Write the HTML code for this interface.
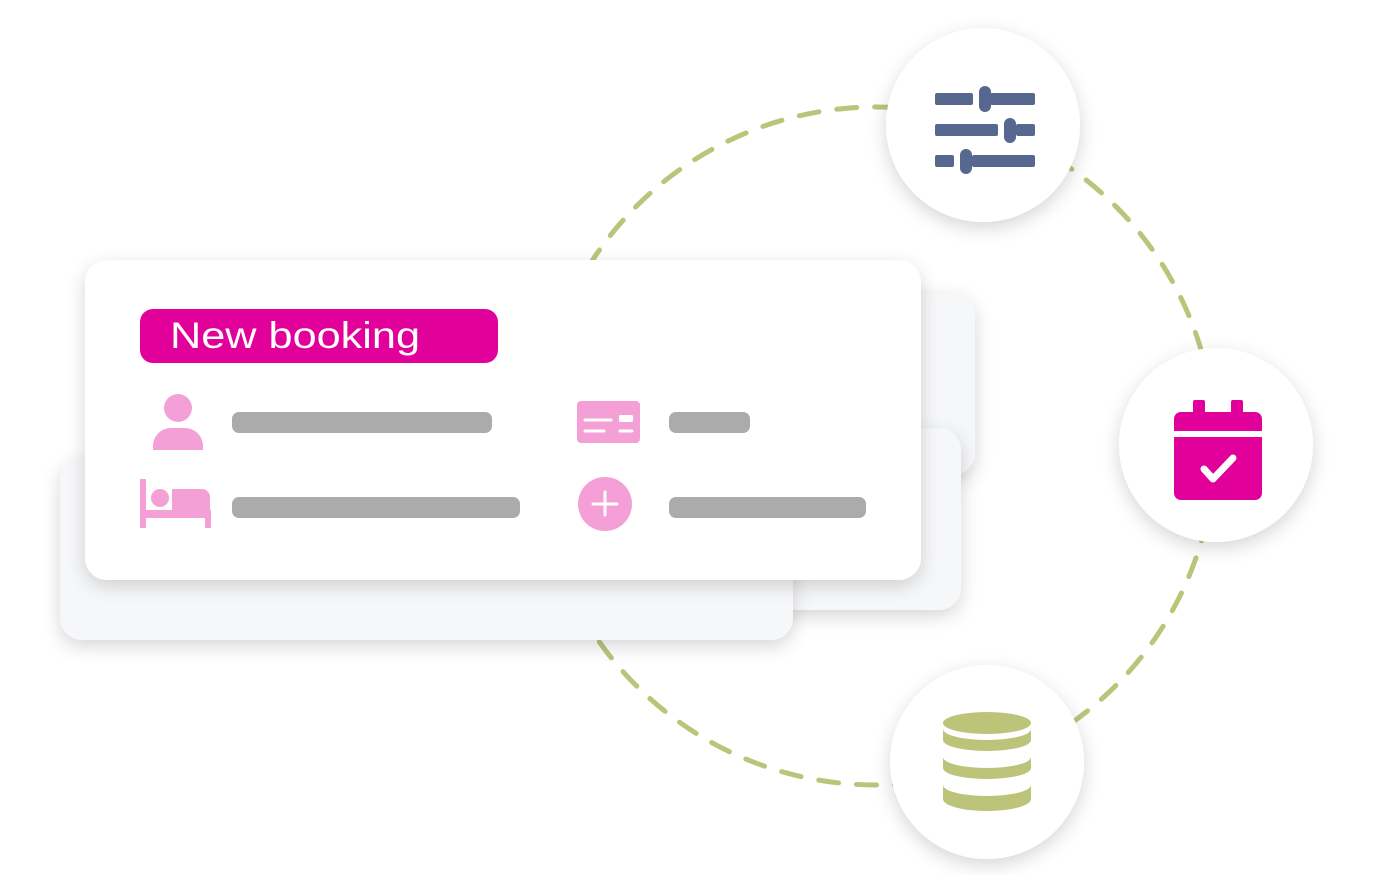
<!DOCTYPE html>
<html><head><meta charset="utf-8"><style>
html,body{margin:0;padding:0;background:#fff;width:1400px;height:875px;overflow:hidden}
svg{display:block}
text{font-family:"Liberation Sans",sans-serif}
</style></head><body>
<svg width="1400" height="875" viewBox="0 0 1400 875">
<defs>
<filter id="sh" x="-30%" y="-30%" width="160%" height="160%"><feDropShadow dx="0" dy="6" stdDeviation="9" flood-color="#000" flood-opacity="0.16"/></filter>
</defs>
<circle cx="876" cy="446" r="339" fill="none" stroke="#bcc47a" stroke-width="5" stroke-linecap="round" stroke-dasharray="20 18"/>
<rect x="560" y="293" width="415" height="182" rx="22" fill="#f6f7f9" filter="url(#sh)"/>
<rect x="560" y="428" width="401" height="182" rx="22" fill="#f6f7f9" filter="url(#sh)"/>
<rect x="60" y="458" width="733" height="182" rx="22" fill="#f6f7f9" filter="url(#sh)"/>
<rect x="85" y="260" width="836" height="320" rx="22" fill="#fff" filter="url(#sh)"/>
<rect x="140" y="309" width="358" height="54" rx="13" fill="#e2009a"/>
<text x="170" y="348" font-size="37" fill="#fff" textLength="250" lengthAdjust="spacingAndGlyphs">New booking</text>
<g fill="#aaabaa">
<rect x="232" y="412" width="260" height="21" rx="7"/>
<rect x="669" y="412" width="81" height="21" rx="7"/>
<rect x="232" y="497" width="288" height="21" rx="7"/>
<rect x="669" y="497" width="197" height="21" rx="7"/>
</g>
<g fill="#f49fd6">
<circle cx="178" cy="408" r="14"/>
<path d="M153 450 V446 a18 18 0 0 1 18 -18 h14 a18 18 0 0 1 18 18 V450 z"/>
<rect x="577" y="401" width="63" height="42" rx="4"/>
<rect x="140" y="479" width="6" height="49" rx="1"/>
<rect x="140" y="510" width="71" height="8"/>
<rect x="205" y="510" width="6" height="18" rx="1"/>
<circle cx="160" cy="498" r="9"/>
<path d="M172 489 h30 a8 8 0 0 1 8 8 V512 h-38 z"/>
<circle cx="605" cy="504" r="27"/>
</g>
<g stroke="#fff" stroke-width="3" stroke-linecap="round">
<line x1="585" y1="420" x2="611" y2="420"/><line x1="585" y1="431" x2="604" y2="431"/>
<line x1="620" y1="431" x2="632" y2="431"/>
<line x1="605" y1="492" x2="605" y2="515"/><line x1="593" y1="504" x2="617" y2="504"/>
</g>
<rect x="619" y="415" width="14" height="7" rx="1.5" fill="#fff"/>
<circle cx="983" cy="125" r="97" fill="#fff" filter="url(#sh)"/>
<circle cx="1216" cy="445" r="97" fill="#fff" filter="url(#sh)"/>
<circle cx="987" cy="762" r="97" fill="#fff" filter="url(#sh)"/>
<g fill="#56688f">
<rect x="935" y="93" width="38" height="12" rx="2"/><rect x="990" y="93" width="45" height="12" rx="2"/><rect x="979" y="86" width="12" height="26" rx="6"/>
<rect x="935" y="124" width="63" height="12" rx="2"/><rect x="1016" y="124" width="19" height="12" rx="2"/><rect x="1004" y="118" width="12" height="25" rx="6"/>
<rect x="935" y="155" width="19" height="12" rx="2"/><rect x="972" y="155" width="63" height="12" rx="2"/><rect x="960" y="149" width="12" height="25" rx="6"/>
</g>
<g fill="#e2009a">
<rect x="1193" y="400" width="12" height="16" rx="2"/><rect x="1231" y="400" width="12" height="16" rx="2"/>
<path d="M1174 431 V419 a7 7 0 0 1 7 -7 h74 a7 7 0 0 1 7 7 V431 z"/>
<path d="M1174 437 h88 V493 a7 7 0 0 1 -7 7 h-74 a7 7 0 0 1 -7 -7 z"/>
</g>
<polyline points="1204,469 1213,479 1233,458" fill="none" stroke="#fff" stroke-width="7" stroke-linecap="round" stroke-linejoin="round"/>
<g fill="#bcc47a">
<ellipse cx="987" cy="723" rx="44" ry="11"/>
<path d="M943 729 V740 a44 11 0 0 0 88 0 V729 a44 11 0 0 1 -88 0z"/>
<path d="M943 757 V768 a44 11 0 0 0 88 0 V757 a44 11 0 0 1 -88 0z"/>
<path d="M943 785 V799 a44 12 0 0 0 88 0 V785 a44 11 0 0 1 -88 0z"/>
</g>
</svg>
</body></html>
